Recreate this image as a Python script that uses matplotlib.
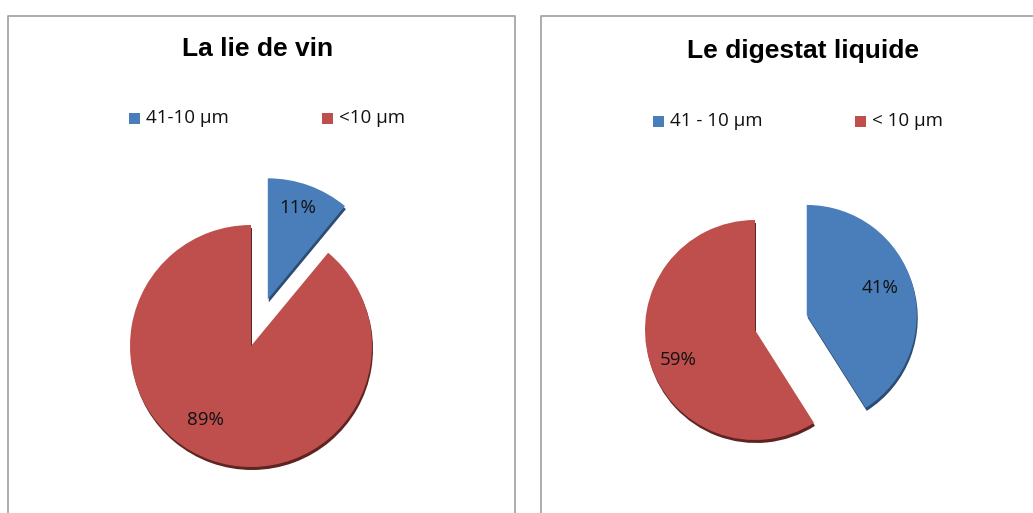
import matplotlib
matplotlib.use("Agg")
from matplotlib import pyplot as plt
from matplotlib.patches import Rectangle

# data
titres = ["La lie de vin", "Le digestat liquide"]
legendes_lie = ["41-10 µm", "<10 µm"]
legendes_digestat = ["41 - 10 µm", "< 10 µm"]
parts_lie = [11, 89]
parts_digestat = [41, 59]

BLEU = "#4A7EBB"
ROUGE = "#BE4F4C"
BLEU_OMBRE = "#2C4C72"
ROUGE_OMBRE = "#5E2422"
GRIS = "#A6A6A6"

W, H = 1033, 513


def camembert(ax, parts, centre, rayon, eclat, pos_etiquettes):
    # explode est en unites de donnees, donc proportionnel au rayon
    explode = [eclat * rayon, 0]
    # ombre sous le camembert (effet 3D)
    ax.pie(parts, explode=explode, colors=[BLEU_OMBRE, ROUGE_OMBRE],
           startangle=90, counterclock=False, radius=rayon,
           center=(centre[0] + 1, centre[1] - 3),
           wedgeprops=dict(linewidth=0))
    wedges, textes, autotextes = ax.pie(
        parts, explode=explode, colors=[BLEU, ROUGE], startangle=90,
        counterclock=False, radius=rayon, center=centre,
        autopct="%.0f%%", pctdistance=0.75,
        wedgeprops=dict(linewidth=0),
        textprops=dict(fontsize=13.5, family="Open Sans", color="#111111"))
    for t, p in zip(autotextes, pos_etiquettes):
        t.set_position(p)


def legende(ax, noms, xs, y):
    for nom, x, c in zip(noms, xs, [BLEU, ROUGE]):
        ax.add_patch(Rectangle((x, y - 5.5), 11, 11, color=c, linewidth=0))
        ax.text(x + 17, y, nom, fontsize=13.5, family="Open Sans",
                va="center", ha="left", color="#111111")


def main():
    fig = plt.figure(figsize=(W / 100, H / 100), dpi=100)
    ax = fig.add_axes([0, 0, 1, 1])

    # cadres des deux graphiques
    ax.plot([8, 8, 515, 515], [0, 497.5, 497.5, 0], color=GRIS, lw=1.3)
    ax.plot([541, 541, 1040], [0, 497.5, 497.5], color=GRIS, lw=1.3)

    ax.text(258, 464, titres[0], fontsize=19, fontweight="bold",
            family="Liberation Sans", ha="center", va="center")
    ax.text(803, 462, titres[1], fontsize=19, fontweight="bold",
            family="Liberation Sans", ha="center", va="center")

    legende(ax, legendes_lie, [129, 322], 395)
    legende(ax, legendes_digestat, [653, 855], 392)

    camembert(ax, parts_lie, (251, 167), 121, 0.41,
              [(298, 305), (205, 93)])
    camembert(ax, parts_digestat, (755, 183), 110, 0.49,
              [(880, 225), (678, 153)])

    ax.set_xlim(0, W)
    ax.set_ylim(0, H)
    ax.set_aspect("auto")
    ax.axis("off")
    fig.savefig("out.png", dpi=100)


if __name__ == "__main__":
    main()
